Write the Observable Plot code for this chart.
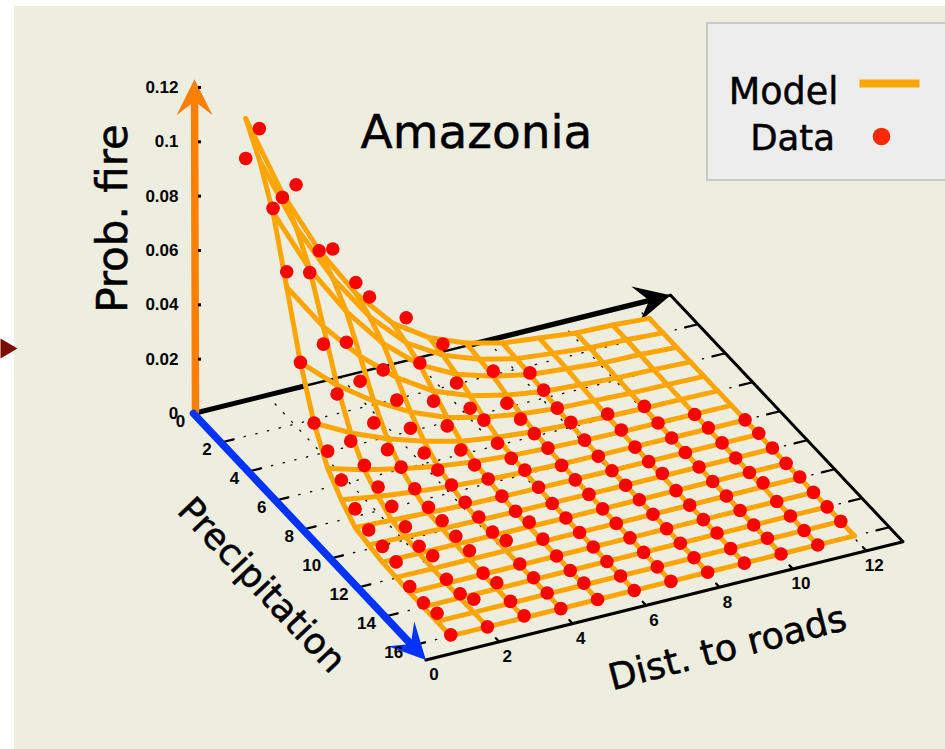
<!DOCTYPE html>
<html><head><meta charset="utf-8">
<style>html,body{margin:0;padding:0;background:#fff}svg{display:block}</style>
<script src="https://cdn.jsdelivr.net/npm/d3@7"></script>
<script src="https://cdn.jsdelivr.net/npm/@observablehq/plot@0.6"></script>
</head><body><div id="chart"></div>
<script>
// Tick values
const distTicks = [0,2,4,6,8,10,12];
const precipTicks = [2,4,6,8,10,12,14,16];
const probTicks = [0.02,0.04,0.06,0.08,0.1,0.12];
const probLabels = ["0.02","0.04","0.06","0.08","0.1","0.12"];
// Surface grid axes
const distNodes = [1.05,2.05,3.05,4.05,5.05,6.05,7.05,8.05,9.05,10.05,11.05,12.05];
const precipNodes = [1,2,3,4,5,6,7,8,9,10,11,12,13,14,15,16];
// Model probability: one list per distance column, precipitation 1..16
const modelD1  = [.1104,.1005,.0865,.0644,.042,.025,.0136,.0074,.0026,.0015,.0005,.0002,0,0,0,0];
const modelD2  = [.0795,.0724,.0623,.0464,.0302,.018,.0098,.0053,.0019,.0011,.0004,.0001,0,0,0,0];
const modelD3  = [.0552,.0503,.0433,.0322,.021,.0125,.0068,.0037,.0013,.0008,.0003,.0001,0,0,0,0];
const modelD4  = [.036,.0328,.0282,.021,.0137,.0082,.0044,.0024,.0008,.0005,.0002,0,0,0,0,0];
const modelD5  = [.0217,.0198,.017,.0127,.0083,.0049,.0027,.0015,.0005,.0003,.0001,0,0,0,0,0];
const modelD6  = [.013,.0119,.0102,.0076,.005,.003,.0016,.0009,.0003,.0002,0,0,0,0,0,0];
const modelD7  = [.0077,.007,.0061,.0045,.0029,.0018,.001,.0005,.0002,.0001,0,0,0,0,0,0];
const modelD8  = [.0043,.0039,.0034,.0025,.0016,.001,.0005,.0003,.0001,0,0,0,0,0,0,0];
const modelD9  = [.0028,.0025,.0022,.0016,.0011,.0006,.0003,.0002,.0001,0,0,0,0,0,0,0];
const modelD10 = [.0013,.0012,.001,.0008,.0005,.0003,.0002,.0001,0,0,0,0,0,0,0,0];
const modelD11 = [.0009,.0008,.0007,.0005,.0003,.0002,.0001,0,0,0,0,0,0,0,0,0];
const modelD12 = [0,0,0,0,0,0,0,0,0,0,0,0,0,0,0,0];
// Observed probability, same layout (null = no observation)
const dataD1  = [.0957,.112,.088,.070,.042,.025,.020,.0147,.0094,.007,.0063,.0059,.0022,.0015,.003,.0004];
const dataD2  = [.078,.088,.061,.040,.027,.015,.0114,.0088,.007,.0048,.003,.0048,.0015,.0015,.0048,0];
const dataD3  = [.055,.061,.032,.023,.013,.0085,.0074,.0048,.0033,.0037,.0033,.0033,.0004,.0022,.0007,.0007];
const dataD4  = [.040,.040,.0185,.0127,.0077,.0039,.003,.0028,.0018,.0017,.0015,.0037,.0004,.0007,.0004,0];
const dataD5  = [null,.029,.0177,.009,.0052,.0017,.0015,.0017,.0007,.0005,.0018,.0009,0,0,.0007,0];
const dataD6  = [null,.016,.007,.003,.004,.0008,.0006,.0016,.0006,0,0,0,0,0,0,0];
const dataD7  = [null,null,.008,.0015,.001,.001,.001,0,0,0,0,0,0,0,0,0];
const dataD8  = [null,null,.004,.003,.0017,.0018,.0006,0,0,0,0,0,0,0,0,0];
const dataD9  = [null,null,null,null,null,.0015,.001,0,0,.001,0,0,0,.0004,0,0];
const dataD10 = [null,null,null,null,null,.001,.0002,0,0,0,0,0,0,0,.0005,0];
const dataD11 = [null,null,null,null,null,null,0,.0004,.0002,0,0,.0015,0,0,0,0];
const dataD12 = [null,null,null,null,null,null,null,0,.0004,.0003,0,.0003,0,0,0,null];

const modelCols = [modelD1,modelD2,modelD3,modelD4,modelD5,modelD6,modelD7,modelD8,modelD9,modelD10,modelD11,modelD12];
const dataCols = [dataD1,dataD2,dataD3,dataD4,dataD5,dataD6,dataD7,dataD8,dataD9,dataD10,dataD11,dataD12];

// The chart's 3-D view: distance, precipitation and probability onto the page plane
const view = {ox:193, oy:413, dx:36.7, dy:-9.1, px:13.67, py:14.5, z:2717, dMax:13, pMax:17, zTop:0.123};
const W = 945, H = 749;
const P = (d,p,z=0) => ({X:view.ox+view.dx*d+view.px*p, Y:view.oy+view.dy*d+view.py*p-view.z*z});
const seg = (a,b,key) => [{...a,key},{...b,key}];

// surface lines
const surface = [];
modelCols.forEach((col,i)=>col.forEach((z,j)=>{
  const q = P(distNodes[i],precipNodes[j],z);
  surface.push({...q,col:i,row:j});
}));
const observations = [];
dataCols.forEach((col,i)=>col.forEach((z,j)=>{
  if (z!==null) observations.push(P(distNodes[i],precipNodes[j],z));
}));
// floor grid
const gridLines = [];
distTicks.filter(d=>d>0).forEach(d=>gridLines.push(...seg(P(d,0),P(d,view.pMax),"d"+d)));
precipTicks.forEach(p=>gridLines.push(...seg(P(0,p),P(view.dMax,p),"p"+p)));
const tickSegs = [];
precipTicks.forEach(p=>tickSegs.push(...seg(P(0,p),P(0.35,p),"l"+p)));
precipTicks.forEach(p=>tickSegs.push(...seg(P(view.dMax,p),P(view.dMax-0.35,p),"r"+p)));
distTicks.filter(d=>d>0).forEach(d=>tickSegs.push(...seg(P(d,view.pMax),P(d,view.pMax-0.25),"b"+d)));

const head = (tip,from,L=36,Wd=18,N=22) => {
  const len=Math.hypot(tip.X-from.X,tip.Y-from.Y), ux=(tip.X-from.X)/len, uy=(tip.Y-from.Y)/len, nx=-uy, ny=ux;
  return [
    {X:tip.X,Y:tip.Y},
    {X:tip.X-L*ux+Wd*nx,Y:tip.Y-L*uy+Wd*ny},
    {X:tip.X-N*ux,Y:tip.Y-N*uy},
    {X:tip.X-L*ux-Wd*nx,Y:tip.Y-L*uy-Wd*ny},
    {X:tip.X,Y:tip.Y}
  ];
};
const O=P(0,0), XE=P(view.dMax,0), YE=P(0,view.pMax), FE=P(view.dMax,view.pMax), ZE={X:194,Y:P(0,0,view.zTop).Y};
const ZB={X:195,Y:411};
const back = (tip,from,n)=>{const l=Math.hypot(tip.X-from.X,tip.Y-from.Y);return {X:tip.X-(tip.X-from.X)/l*n,Y:tip.Y-(tip.Y-from.Y)/l*n};};

const font='"DejaVu Sans",sans-serif', tickFont='"Liberation Sans",Arial,sans-serif';
const tickStyle={fontFamily:tickFont,fontWeight:"bold",fontSize:17,fill:"#000"};
const lineMark=(pts,o)=>Plot.line(pts,{x:"X",y:"Y",...o});
const labelOne=(txt,X,Y,o)=>Plot.text([{X,Y,txt}],{x:"X",y:"Y",text:"txt",fontFamily:font,fontSize:36,fill:"#000",stroke:"#000",strokeWidth:0.5,...o});

const chart = Plot.plot({
  width:W,height:H,margin:0,
  x:{axis:null,domain:[0,W],range:[0,W]},
  y:{axis:null,domain:[0,H],range:[0,H]},
  style:{background:"#fff"},
  marks:[
    Plot.rect([{}],{x1:()=>14,x2:()=>W,y1:()=>6,y2:()=>H,fill:"#edeee0"}),
    lineMark([{X:0,Y:338},{X:17,Y:348},{X:0,Y:358},{X:0,Y:338}],{fill:"#7a0c00",stroke:"none"}),
    Plot.rect([{}],{x1:()=>707,x2:()=>W+5,y1:()=>23,y2:()=>180,fill:"#ededed",stroke:"#c9c9c9",strokeWidth:2}),
    // floor
    Plot.line(gridLines,{x:"X",y:"Y",z:"key",stroke:"#000",strokeWidth:1.3,strokeDasharray:"1.3 10.7"}),
    Plot.line(tickSegs,{x:"X",y:"Y",z:"key",stroke:"#000",strokeWidth:2.2}),
    lineMark([XE,FE,YE],{stroke:"#000",strokeWidth:3}),
    lineMark([O,XE],{stroke:"#000",strokeWidth:2.6}),
    lineMark([O,P(3.05,0)],{stroke:"#000",strokeWidth:5}),
    lineMark([P(7.5,0),back(XE,O,12)],{stroke:"#000",strokeWidth:5.5}),
    lineMark(head(XE,O),{fill:"#000",stroke:"none"}),
    // surface
    Plot.line(surface,{x:"X",y:"Y",z:"col",sort:"row",stroke:"#ffa500",strokeWidth:5,strokeLinejoin:"round"}),
    Plot.line(surface,{x:"X",y:"Y",z:"row",sort:"col",stroke:"#ffa500",strokeWidth:5,strokeLinejoin:"round"}),
    Plot.dot(observations,{x:"X",y:"Y",r:6.8,fill:"#ff0000",stroke:"none"}),
    // coloured axes
    lineMark([ZB,back(ZE,ZB,18)],{stroke:"#ff8000",strokeWidth:7.5}),
    lineMark(head(ZE,ZB),{fill:"#ff8000",stroke:"none"}),
    lineMark([O,back(YE,O,14)],{stroke:"#0033ff",strokeWidth:7.5}),
    lineMark(head(YE,O),{fill:"#0033ff",stroke:"none"}),
    // z ticks
    Plot.dot(probTicks,{x:()=>199,y:z=>P(0,0,z).Y,r:1.7,symbol:"square",fill:"#000"}),
    // tick labels
    Plot.text(probTicks,{x:()=>178,y:z=>P(0,0,z).Y,text:(z,i)=>probLabels[i],textAnchor:"end",...tickStyle}),
    Plot.text([{X:173,Y:413,txt:"0"},{X:180,Y:421,txt:"0"}],{x:"X",y:"Y",text:"txt",...tickStyle}),
    Plot.text(precipTicks,{x:p=>P(0,p).X-9,y:p=>P(0,p).Y+7,text:p=>String(p),textAnchor:"end",...tickStyle}),
    Plot.text(distTicks,{x:d=>P(d,view.pMax).X+8,y:d=>P(d,view.pMax).Y+15,text:d=>String(d),...tickStyle}),
    // titles
    labelOne("Amazonia",476,132,{fontSize:47}),
    labelOne("Prob. fire",113,218,{rotate:-90,fontSize:42}),
    labelOne("Precipitation",261,585,{rotate:46.5}),
    labelOne("Dist. to roads",727,648,{rotate:-14.5,fontSize:36.5}),
    // legend
    labelOne("Model",783,92,{fontSize:36.5}),
    labelOne("Data",792,138,{fontSize:35.5}),
    lineMark([{X:859,Y:83},{X:919,Y:83}],{stroke:"#ffa500",strokeWidth:8,strokeLinecap:"butt"}),
    Plot.dot([{X:881,Y:136}],{x:"X",y:"Y",r:8.8,fill:"#ff2a00"})
  ]
});
document.getElementById("chart").append(chart);
</script></body></html>
